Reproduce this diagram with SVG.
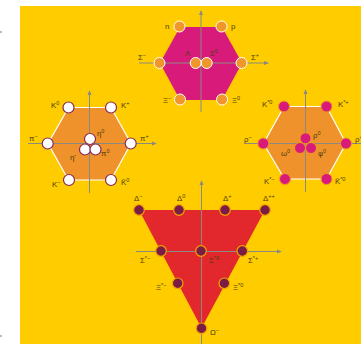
<svg xmlns="http://www.w3.org/2000/svg" width="361" height="344" viewBox="0 0 361 344">
<style>
.lbl{font-family:"Liberation Sans","DejaVu Sans",sans-serif;font-size:7.8px;fill:#4d3d0c}
.s{font-size:5.5px}
.ax{stroke:#8a8a80;stroke-width:1;fill:none}
.oc{fill:#f0962b;stroke:#fff;stroke-width:1}
.wc{fill:#fff;stroke:#8a2850;stroke-width:1.2}
.mc{fill:#d81b7a;stroke:#f29a20;stroke-width:1}
.dc{fill:#7a1c45;stroke:#f2a000;stroke-width:1.2}
</style>
<defs>
<marker id="arr" viewBox="0 0 6 6" refX="5" refY="3" markerWidth="5" markerHeight="5" orient="auto">
<path d="M0,0.5 L6,3 L0,5.5 Z" fill="#8a8a80"/>
</marker>
</defs>
<rect x="0" y="0" width="361" height="344" fill="#fff"/>
<rect x="20" y="6" width="341" height="338" fill="#ffcc00"/>
<rect x="0" y="31" width="2" height="2" fill="#bbb"/>
<rect x="0" y="335" width="2" height="2" fill="#bbb"/>

<!-- shapes -->
<polygon points="180,27 222,27 242,63 222,100 180,100 160,63" fill="#d81b7a"/>
<polygon points="68.5,107.5 111,107.5 131,143.5 111,180 68.5,180 48,143.5" fill="#f0922b" stroke="#fff" stroke-width="1.2"/>
<polygon points="284,106.5 326.5,106.5 346,143.5 326.5,179 284.5,179 263.5,143.5" fill="#f0922b" stroke="#fff" stroke-width="1.2"/>
<polygon points="139,210 265,210 201.5,328" fill="#e2282d"/>

<g id="connectors">
<line class="ax" x1="201" y1="112" x2="201" y2="11" marker-end="url(#arr)"/>
<line class="ax" x1="139" y1="63" x2="268" y2="63" marker-end="url(#arr)"/>
<line class="ax" x1="89.5" y1="193" x2="89.5" y2="91" marker-end="url(#arr)"/>
<line class="ax" x1="28" y1="143.5" x2="156" y2="143.5" marker-end="url(#arr)"/>
<line class="ax" x1="305.5" y1="192" x2="305.5" y2="90" marker-end="url(#arr)"/>
<line class="ax" x1="245" y1="143.5" x2="362" y2="143.5"/>
<line class="ax" x1="201.5" y1="344" x2="201.5" y2="181" marker-end="url(#arr)"/>
<line class="ax" x1="136" y1="251.5" x2="281" y2="251.5" marker-end="url(#arr)"/>
</g>

<!-- baryon octet -->
<g id="n"><circle class="oc" cx="179.5" cy="26.5" r="5.5"/><text class="lbl" x="165" y="29">n</text></g>
<g id="p"><circle class="oc" cx="221.5" cy="26.5" r="5.5"/><text class="lbl" x="231" y="29">p</text></g>
<g id="Sigma-"><circle class="oc" cx="159.5" cy="63" r="5.5"/><text class="lbl" x="138" y="60">Σ<tspan class="s" dy="-3">−</tspan></text></g>
<g id="Sigma+"><circle class="oc" cx="241.5" cy="63" r="5.5"/><text class="lbl" x="251" y="60">Σ<tspan class="s" dy="-3">+</tspan></text></g>
<g id="Lambda"><circle class="oc" cx="195.7" cy="63" r="5.5"/><text class="lbl" x="185" y="56">Λ</text></g>
<g id="Sigma0"><circle class="oc" cx="206.7" cy="63" r="5.5"/><text class="lbl" x="210" y="56">Σ<tspan class="s" dy="-3">0</tspan></text></g>
<g id="Xi-"><circle class="oc" cx="180" cy="99.5" r="5.5"/><text class="lbl" x="163" y="103">Ξ<tspan class="s" dy="-3">−</tspan></text></g>
<g id="Xi0"><circle class="oc" cx="222" cy="99.5" r="5.5"/><text class="lbl" x="232" y="103">Ξ<tspan class="s" dy="-3">0</tspan></text></g>

<!-- pseudoscalar mesons -->
<g id="K0"><circle class="wc" cx="68.5" cy="107.5" r="5.5"/><text class="lbl" x="51" y="108">K<tspan class="s" dy="-3">0</tspan></text></g>
<g id="K+"><circle class="wc" cx="111" cy="107.5" r="5.5"/><text class="lbl" x="121" y="108">K<tspan class="s" dy="-3">+</tspan></text></g>
<g id="pi-"><circle class="wc" cx="47.7" cy="143.5" r="5.5"/><text class="lbl" x="29" y="141">π<tspan class="s" dy="-3">−</tspan></text></g>
<g id="pi+"><circle class="wc" cx="130.7" cy="143.5" r="5.5"/><text class="lbl" x="140" y="141">π<tspan class="s" dy="-3">+</tspan></text></g>
<g id="eta0"><circle class="wc" cx="90" cy="139" r="5.5"/><text class="lbl" x="97" y="136">η<tspan class="s" dy="-3">0</tspan></text></g>
<g id="etap"><circle class="wc" cx="85" cy="149.5" r="5.5"/><text class="lbl" x="70" y="160">η'</text></g>
<g id="pi0"><circle class="wc" cx="95.5" cy="149.5" r="5.5"/><text class="lbl" x="101" y="156">π<tspan class="s" dy="-3">0</tspan></text></g>
<g id="K-"><circle class="wc" cx="69" cy="180" r="5.5"/><text class="lbl" x="52" y="187">K<tspan class="s" dy="-3">−</tspan></text></g>
<g id="K0bar"><circle class="wc" cx="111" cy="180" r="5.5"/><text class="lbl" x="121" y="185">K̄<tspan class="s" dy="-3">0</tspan></text></g>

<!-- vector mesons -->
<g id="Ks0"><circle class="mc" cx="284" cy="106.5" r="5.5"/><text class="lbl" x="262" y="107">K<tspan class="s" dy="-3">*0</tspan></text></g>
<g id="Ks+"><circle class="mc" cx="326.5" cy="106.5" r="5.5"/><text class="lbl" x="338" y="107">K<tspan class="s" dy="-3">*+</tspan></text></g>
<g id="rho-"><circle class="mc" cx="263.3" cy="143.5" r="5.5"/><text class="lbl" x="244" y="142">ρ<tspan class="s" dy="-3">−</tspan></text></g>
<g id="rho+"><circle class="mc" cx="346" cy="143.5" r="5.5"/><text class="lbl" x="355" y="142">ρ<tspan class="s" dy="-3">+</tspan></text></g>
<g id="rho0"><circle class="mc" cx="305.5" cy="138.3" r="5.5"/><text class="lbl" x="313" y="138">ρ<tspan class="s" dy="-3">0</tspan></text></g>
<g id="omega0"><circle class="mc" cx="300" cy="148" r="5.5"/><text class="lbl" x="281" y="156">ω<tspan class="s" dy="-3">0</tspan></text></g>
<g id="phi0"><circle class="mc" cx="311" cy="148" r="5.5"/><text class="lbl" x="318" y="156">φ<tspan class="s" dy="-3">0</tspan></text></g>
<g id="Ks-"><circle class="mc" cx="285" cy="179" r="5.5"/><text class="lbl" x="264" y="184">K<tspan class="s" dy="-3">*−</tspan></text></g>
<g id="Ks0bar"><circle class="mc" cx="326.5" cy="179" r="5.5"/><text class="lbl" x="335" y="184">K̄<tspan class="s" dy="-3">*0</tspan></text></g>

<!-- baryon decuplet -->
<g id="Delta-"><circle class="dc" cx="139" cy="210" r="5.3"/><text class="lbl" x="134" y="201">Δ<tspan class="s" dy="-3">−</tspan></text></g>
<g id="Delta0"><circle class="dc" cx="179" cy="210" r="5.3"/><text class="lbl" x="177" y="201">Δ<tspan class="s" dy="-3">0</tspan></text></g>
<g id="Delta+"><circle class="dc" cx="225" cy="210" r="5.3"/><text class="lbl" x="223" y="201">Δ<tspan class="s" dy="-3">+</tspan></text></g>
<g id="Delta++"><circle class="dc" cx="265" cy="210" r="5.3"/><text class="lbl" x="263" y="201">Δ<tspan class="s" dy="-3">++</tspan></text></g>
<g id="Sigmas-"><circle class="dc" cx="161" cy="251" r="5.3"/><text class="lbl" x="140" y="263">Σ<tspan class="s" dy="-3">*−</tspan></text></g>
<g id="Sigmas0"><circle class="dc" cx="201" cy="251" r="5.3"/><text class="lbl" x="209" y="263">Σ<tspan class="s" dy="-3">*0</tspan></text></g>
<g id="Sigmas+"><circle class="dc" cx="242.3" cy="251" r="5.3"/><text class="lbl" x="248" y="263">Σ<tspan class="s" dy="-3">*+</tspan></text></g>
<g id="Xis-"><circle class="dc" cx="177.7" cy="283.3" r="5.3"/><text class="lbl" x="156" y="290">Ξ<tspan class="s" dy="-3">*−</tspan></text></g>
<g id="Xis0"><circle class="dc" cx="224.3" cy="283.3" r="5.3"/><text class="lbl" x="233" y="290">Ξ<tspan class="s" dy="-3">*0</tspan></text></g>
<g id="Omega-"><circle class="dc" cx="201.5" cy="328.3" r="5.3"/><text class="lbl" x="210" y="335">Ω<tspan class="s" dy="-3">−</tspan></text></g>
</svg>
